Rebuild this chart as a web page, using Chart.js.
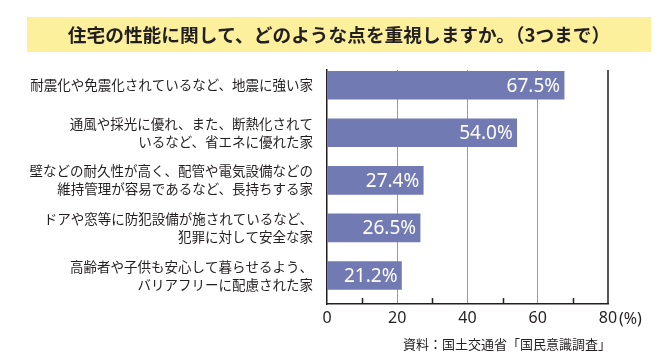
<!DOCTYPE html>
<html>
<head>
<meta charset="utf-8">
<script src="https://cdn.jsdelivr.net/npm/chart.js@4"></script>
<style>
  body { margin: 0; background: #fff; }
  canvas { display: block; }
</style>
</head>
<body>
<canvas id="g_house" width="670" height="363"></canvas>
<script>
const title = "住宅の性能に関して、どのような点を重視しますか。（3つまで）"
const source = "資料：国土交通省「国民意識調査」"
const categories = [
    ["耐震化や免震化されているなど、地震に強い家"],
    ["通風や採光に優れ、また、断熱化されて", "いるなど、省エネに優れた家"],
    ["壁などの耐久性が高く、配管や電気設備などの", "維持管理が容易であるなど、長持ちする家"],
    ["ドアや窓等に防犯設備が施されているなど、", "犯罪に対して安全な家"],
    ["高齢者や子供も安心して暮らせるよう、", "バリアフリーに配慮された家"]
]
const values = [67.5, 54.0, 27.4, 26.5, 21.2]
const xTicks = [0, 20, 40, 60, 80]
const minorTicks = [10, 30, 50, 70]
const unit = "(%)"

const ink = "#231f20"
const barColor = "#717ab2"
const jp = "'Noto Sans CJK JP', 'Noto Sans', sans-serif"

// yellow title band, frame, minor ticks, value labels, source
const extras = {
    id: "extras",
    beforeDraw(chart) {
        const ctx = chart.ctx
        ctx.save()
        ctx.fillStyle = "#fcf09c"
        ctx.fillRect(27, 17, 624, 35)
        ctx.fillStyle = ink
        ctx.font = "bold 18.7px " + jp
        ctx.textAlign = "center"
        ctx.textBaseline = "middle"
        ctx.fillText(title, 339, 35)
        ctx.restore()
    },
    afterDraw(chart) {
        const ctx = chart.ctx
        const { right, top, bottom } = chart.chartArea
        const x = chart.scales.x
        ctx.save()
        ctx.strokeStyle = ink
        ctx.lineWidth = 1.5
        ctx.beginPath()
        ctx.moveTo(right, top)
        ctx.lineTo(right, bottom)
        minorTicks.forEach(v => {
            const px = Math.round(x.getPixelForValue(v)) + 0.5
            ctx.moveTo(px, bottom)
            ctx.lineTo(px, bottom - 6)
        })
        ctx.stroke()

        // unit after last tick
        ctx.fillStyle = ink
        ctx.font = "16px 'Noto Sans', sans-serif"
        ctx.textAlign = "left"
        ctx.textBaseline = "middle"
        ctx.fillText(unit, x.getPixelForValue(80) + 11, 319)

        // values inside the bars
        const meta = chart.getDatasetMeta(0)
        ctx.fillStyle = "#fff"
        ctx.font = "19px 'Noto Sans', sans-serif"
        ctx.textAlign = "right"
        meta.data.forEach((bar, i) => {
            ctx.fillText(values[i].toFixed(1) + "%", bar.x - 4, bar.y + 1)
        })

        ctx.fillStyle = ink
        ctx.font = "13px " + jp
        ctx.textAlign = "right"
        ctx.fillText(source, 611, 344)
        ctx.restore()
    }
}

new Chart(document.getElementById("g_house"), {
    type: "bar",
    data: {
        datasets: [{
            data: values.map((v, i) => ({ x: v, y: i })),
            backgroundColor: barColor,
            barThickness: 28
        }]
    },
    options: {
        indexAxis: "y",
        responsive: false,
        animation: false,
        layout: { autoPadding: false, padding: { left: 0, top: 70, right: 62, bottom: 0 } },
        plugins: {
            legend: { display: false },
            tooltip: { enabled: false }
        },
        scales: {
            x: {
                type: "linear",
                min: 0,
                max: 80,
                afterBuildTicks: s => { s.ticks = xTicks.map(v => ({ value: v })) },
                afterFit: s => { s.height = 59 },
                ticks: {
                    color: ink,
                    padding: 5,
                    font: { size: 16, family: "'Noto Sans', sans-serif" }
                },
                grid: {
                    drawTicks: false,
                    color: c => (c.tick && c.tick.value > 0 && c.tick.value < 80) ? "#9a9a9a" : "rgba(0,0,0,0)",
                    lineWidth: 1
                },
                border: { display: true, color: ink, width: 1.5 }
            },
            y: {
                type: "linear",
                reverse: true,
                offset: false,
                min: -0.32,
                max: 4.6,
                afterBuildTicks: s => { s.ticks = categories.map((_, i) => ({ value: i })) },
                afterFit: s => { s.width = 327 },
                ticks: {
                    color: ink,
                    padding: 14,
                    callback: v => categories[v],
                    font: { size: 13.5, family: jp, lineHeight: 1.33 }
                },
                grid: { display: false, drawTicks: false, offset: false },
                border: { display: true, color: ink, width: 1.5 }
            }
        }
    },
    plugins: [extras]
})
</script>
</body>
</html>
